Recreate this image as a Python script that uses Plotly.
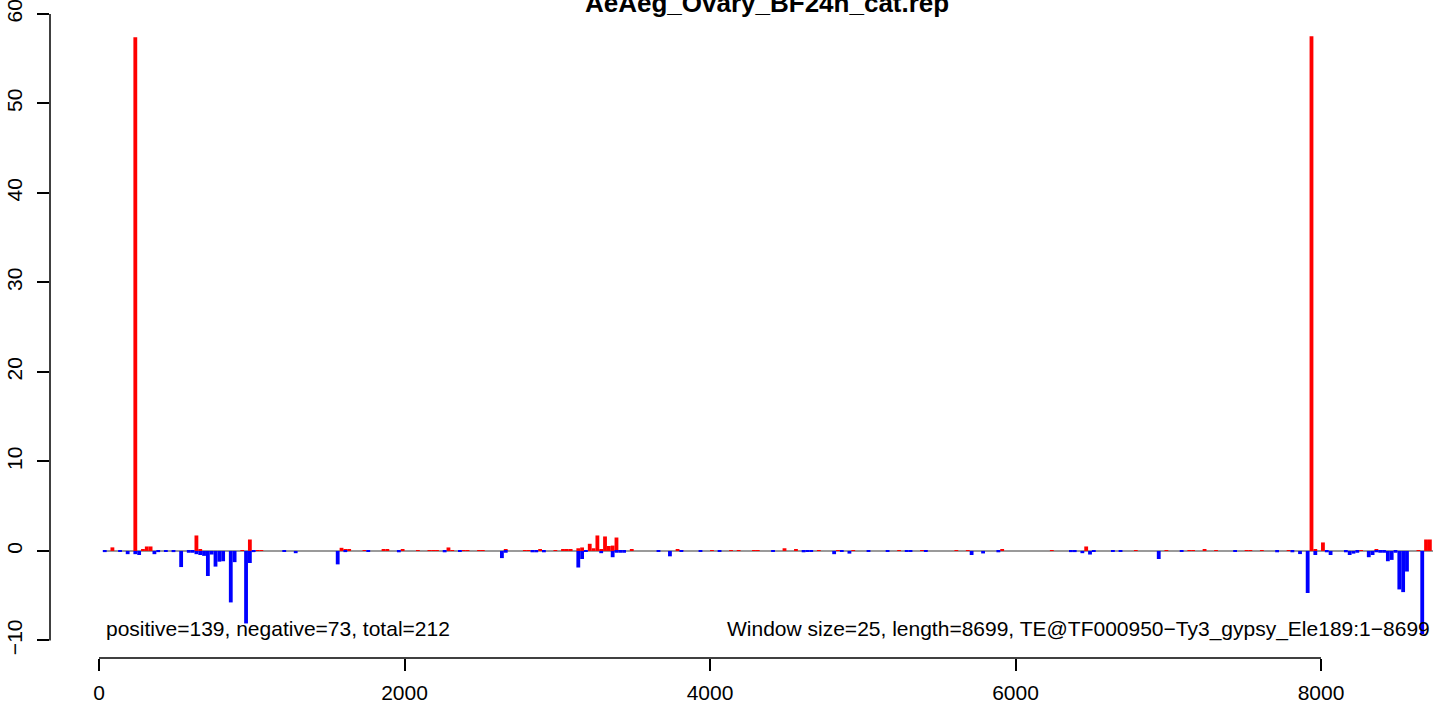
import plotly.graph_objects as go

WINDOW = 25
LENGTH = 8699
title_text = "AeAeg_Ovary_BF24h_cat.rep"
left_text = "positive=139, negative=73, total=212"
right_text = "Window size=25, length=8699, TE@TF000950\u2212Ty3_gypsy_Ele189:1\u22128699"

# window index -> value (sense / positive strand)
pos_windows = [3, 9, 11, 12, 13, 25, 26, 37, 39, 41, 42, 63, 64, 65, 69, 74, 75, 79, 83, 86,
               87, 88, 91, 92, 95, 96, 99, 100, 106, 111, 112, 115, 119, 121, 122, 123, 125, 126,
               128, 129, 130, 131, 132, 133, 134, 135, 136, 139, 151, 152, 160, 165, 167, 171,
               172, 179, 182, 188, 193, 197, 209, 215, 216, 224, 227, 236, 249, 258, 271, 279,
               285, 286, 289, 292, 300, 301, 304, 311, 317, 318, 320, 330, 334, 345, 347, 348]
pos_values = [0.4, 57.4, 0.17, 0.5, 0.5, 1.73, 0.17, 0.1, 1.28, 0.1, 0.08, 0.35, 0.17, 0.17, 0.1,
              0.17, 0.17, 0.2, 0.05, 0.1, 0.1, 0.1, 0.39, 0.08, 0.08, 0.08, 0.08, 0.08, 0.17, 0.08,
              0.08, 0.17, 0.08, 0.17, 0.17, 0.17, 0.3, 0.39, 0.8, 0.3, 1.73, 0.2, 1.62, 0.55, 0.6,
              1.5, 0.1, 0.2, 0.2, 0.08, 0.08, 0.08, 0.08, 0.08, 0.08, 0.3, 0.2, 0.05, 0.08, 0.08,
              0.08, 0.08, 0.08, 0.08, 0.08, 0.2, 0.08, 0.5, 0.08, 0.08, 0.08, 0.08, 0.2, 0.08, 0.08,
              0.08, 0.08, 0.08, 57.5, 0.2, 0.95, 0.05, 0.2, 0.08, 1.28, 1.28]

# window index -> value (antisense / negative strand)
neg_windows = [1, 5, 7, 9, 10, 14, 15, 17, 19, 21, 23, 24, 25, 26, 27, 28, 29, 30, 31, 32, 34,
               35, 38, 39, 40, 48, 51, 62, 64, 70, 78, 90, 94, 105, 106, 113, 114, 116, 125, 126,
               127, 131, 134, 135, 136, 137, 146, 149, 152, 157, 162, 176, 184, 185, 186, 192,
               194, 196, 201, 206, 211, 212, 216, 228, 231, 235, 254, 255, 257, 259, 260, 265,
               267, 277, 283, 297, 308, 312, 314, 316, 318, 321, 322, 326, 327, 328, 329, 332,
               333, 334, 335, 336, 337, 338, 339, 340, 341, 342, 346]
neg_values = [-0.13, -0.05, -0.36, -0.36, -0.45, -0.36, -0.13, -0.1, -0.13, -1.8, -0.2, -0.2,
              -0.36, -0.45, -0.55, -2.8, -0.4, -1.75, -1.2, -1.15, -5.75, -1.25, -8.1, -1.35,
              -0.13, -0.08, -0.25, -1.5, -0.13, -0.08, -0.15, -0.15, -0.08, -0.8, -0.2, -0.15,
              -0.15, -0.15, -1.85, -0.9, -0.1, -0.25, -0.7, -0.2, -0.2, -0.2, -0.1, -0.6, -0.1,
              -0.1, -0.1, -0.1, -0.15, -0.1, -0.1, -0.36, -0.08, -0.3, -0.08, -0.08, -0.1, -0.1,
              -0.1, -0.45, -0.28, -0.15, -0.13, -0.13, -0.25, -0.4, -0.1, -0.08, -0.08, -0.9,
              -0.08, -0.08, -0.15, -0.15, -0.35, -4.7, -0.45, -0.15, -0.45, -0.15, -0.45, -0.3,
              -0.2, -0.7, -0.45, -0.15, -0.2, -0.2, -1.15, -1.0, -0.2, -4.3, -4.6, -2.3, -9.3]

x_ticks = [0, 2000, 4000, 6000, 8000]
y_ticks = [-10, 0, 10, 20, 30, 40, 50, 60]

FONT = "Liberation Sans, Arial, Helvetica, sans-serif"

fig = go.Figure()
fig.add_trace(go.Bar(x=[w * WINDOW for w in pos_windows], y=pos_values, width=WINDOW, offset=0,
                     marker=dict(color="#FF0000", line=dict(width=0)), showlegend=False))
fig.add_trace(go.Bar(x=[w * WINDOW for w in neg_windows], y=neg_values, width=WINDOW, offset=0,
                     marker=dict(color="#0000FF", line=dict(width=0)), showlegend=False))

fig.update_layout(
    template="none",
    width=1433, height=706,
    margin=dict(l=50, r=0, t=13, b=48, pad=0, autoexpand=False),
    paper_bgcolor="white", plot_bgcolor="white",
    barmode="overlay",
    font=dict(family=FONT, size=21, color="black"),
    xaxis=dict(range=[-321, 8733], tickvals=x_ticks, ticktext=[str(v) for v in x_ticks],
               ticks="outside", ticklen=12, tickwidth=1.5, tickcolor="black",
               showgrid=False, zeroline=False, showline=False, automargin=False,
               ticklabelstandoff=4, ticklabeloverflow="allow", tickfont=dict(size=21, family=FONT)),
    yaxis=dict(range=[-11.96, 60.1], tickvals=y_ticks, ticktext=[str(v).replace("-", "\u2212") for v in y_ticks],
               ticks="outside", ticklen=12, tickwidth=1.5, tickcolor="black", tickangle=-90,
               showgrid=False, zeroline=False, showline=False, automargin=False,
               ticklabelstandoff=7, ticklabeloverflow="allow", tickfont=dict(size=21, family=FONT)),
    shapes=[
        dict(type="line", xref="x", yref="y", x0=WINDOW, x1=8760, y0=0, y1=0,
             line=dict(color="#9a9a9a", width=2), layer="below"),
        dict(type="line", xref="x", yref="paper", x0=x_ticks[0], x1=x_ticks[-1], y0=0, y1=0,
             line=dict(color="black", width=1.5)),
        dict(type="line", xref="paper", yref="y", x0=0, x1=0, y0=y_ticks[0], y1=y_ticks[-1],
             line=dict(color="black", width=1.5)),
    ],
    annotations=[
        dict(text="<b>" + title_text + "</b>", xref="x", yref="paper", x=4373, y=1.0155,
             xanchor="center", yanchor="middle", showarrow=False,
             font=dict(size=26, family=FONT, color="black")),
        dict(text=left_text, xref="x", yref="y", x=33, y=-8.7, xanchor="left", yanchor="middle",
             showarrow=False, font=dict(size=21, family=FONT, color="black")),
        dict(text=right_text, xref="x", yref="y", x=8727, y=-8.7, xanchor="right", yanchor="middle",
             showarrow=False, font=dict(size=21, family=FONT, color="black")),
    ],
)

fig.write_html("out.html", config={"displayModeBar": False},
               post_script="document.body.style.margin='0px';document.body.style.padding='0px';")
